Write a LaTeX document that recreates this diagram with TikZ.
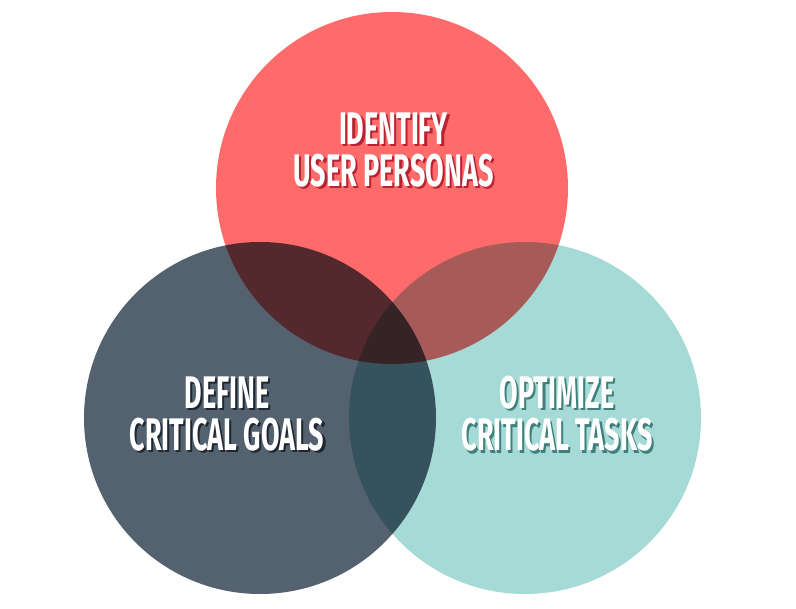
\documentclass[tikz,border=0pt]{standalone}
\usepackage{fontspec}
\newfontfamily\vennfont[FakeStretch=0.59]{Fira Sans}
\usetikzlibrary{positioning}
\definecolor{personared}{HTML}{FF6B6B}
\definecolor{goalsgray}{HTML}{546270}
\definecolor{taskteal}{HTML}{A6DAD6}
\definecolor{personashade}{HTML}{B82231}
\definecolor{goalsshade}{HTML}{1F2731}
\definecolor{taskshade}{HTML}{3F807C}
\tikzset{
  venn/.style= {circle, minimum size=3.52cm, inner sep=0, draw=none},
  vtext/.style= {align=center, text=white, inner sep=0,
    font=\vennfont\bfseries\fontsize{13}{12}\selectfont},
  vshade/.style= {vtext, xshift=0.022cm, yshift=-0.022cm},
}

\begin{document}
\begin{tikzpicture}
  \useasboundingbox (0,0) rectangle (7.96,6.09);
  \fill [white] (0,0) rectangle (7.96,6.09);

  \begin{scope}[blend group=multiply]
    \node [venn, fill=personared] (persona) at (3.92,4.21) {};
    \node [venn, fill=goalsgray] (goals) at (2.60,1.91) {};
    \node [venn, fill=taskteal] (tasks) at (5.25,1.91) {};
  \end{scope}

  \node [vshade, text=personashade] (persona-s) at (3.935,4.59) {IDENTIFY\\USER PERSONAS};
  \node [vtext] (persona-t) at (3.935,4.59) {IDENTIFY\\USER PERSONAS};
  \node [vshade, text=goalsshade] (goals-s) at (2.27,1.95) {DEFINE\\CRITICAL GOALS};
  \node [vtext] (goals-t) at (2.27,1.95) {DEFINE\\CRITICAL GOALS};
  \node [vshade, text=taskshade] (tasks-s) at (5.57,1.95) {OPTIMIZE\\CRITICAL TASKS};
  \node [vtext] (tasks-t) at (5.57,1.95) {OPTIMIZE\\CRITICAL TASKS};
\end{tikzpicture}
\end{document}
